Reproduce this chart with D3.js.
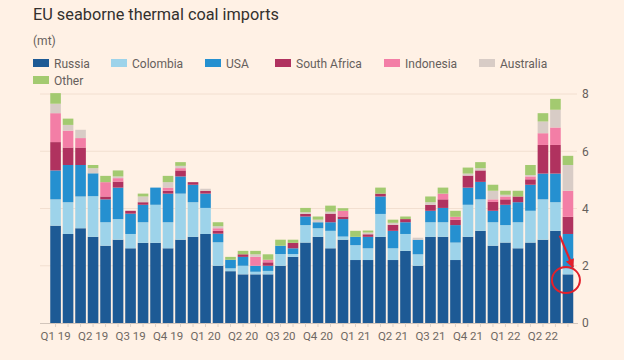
<!DOCTYPE html>
<html><head><meta charset="utf-8">
<script src="https://cdn.jsdelivr.net/npm/d3@7"></script>
<style>
html,body{margin:0;padding:0;background:#fff1e5;}
svg{display:block;font-family:Roboto,"Noto Sans",sans-serif;}
</style></head>
<body><svg id="c" width="624" height="360"></svg>
<script>
const months = d3.range(42).map(i => { const y = 2019 + Math.floor(i/12), m = i % 12 + 1; return y + "-" + String(m).padStart(2,"0"); });
const seriesNames = ["Russia","Colombia","USA","South Africa","Indonesia","Australia","Other"];
const russia = [3.40,3.11,3.31,3.01,2.70,2.91,2.61,2.80,2.80,2.61,2.91,3.01,3.11,2.00,1.81,1.70,1.70,1.70,2.00,2.31,2.81,3.01,2.61,2.91,2.20,2.20,3.01,2.20,2.52,2.00,3.01,3.01,2.20,3.01,3.22,2.70,2.81,2.61,2.81,2.91,3.22,1.70];
const colombia = [0.92,1.11,1.11,1.42,0.82,0.72,0.50,0.72,1.33,0.91,1.61,1.21,0.91,0.82,0.10,0.30,0.09,0.12,0.41,0.10,0.61,0.30,0.61,0.11,0.52,0.41,0.80,0.41,0.59,0.40,0.51,0.51,0.61,1.12,1.10,0.82,0.61,0.91,1.11,1.41,1.00,0.21];
const usa = [1.01,1.30,1.10,0.80,0.80,1.10,0.71,0.61,0.60,1.00,0.60,0.61,0.50,0.30,0.30,0.31,0.21,0.18,0.29,0.20,0.30,0.21,0.30,0.61,0.29,0.40,0.61,0.61,0.41,0.51,0.40,0.50,0.61,0.60,0.61,0.40,0.71,0.70,0.91,0.90,1.00,1.20];
const southAfrica = [0.99,0.61,0.61,0,0.10,0.21,0.10,0.09,0,0.10,0.21,0.09,0.10,0.10,0,0.09,0,0.12,0,0.19,0.09,0,0.30,0.09,0,0.09,0.10,0.21,0.11,0,0.21,0.30,0.19,0.42,0.40,0.31,0.19,0.20,0.19,1.00,1.00,0.60];
const indonesia = [1.01,0.59,0.33,0,0.50,0.12,0,0,0,0.11,0.08,0,0,0.09,0,0,0.31,0.09,0,0,0,0,0,0.20,0,0,0,0,0,0,0,0.20,0.10,0,0,0.09,0.10,0,0.10,0.41,0.61,0.91];
const australia = [0.33,0.20,0.29,0.18,0,0.06,0,0.20,0,0.19,0.08,0,0.07,0.07,0,0,0.09,0,0,0,0.06,0.09,0.07,0,0,0.06,0,0.07,0,0.07,0.09,0,0,0.07,0.08,0.30,0.06,0,0.05,0.41,0.62,0.90];
const other = [0.37,0.22,0,0.11,0.22,0.21,0,0.10,0,0.22,0.13,0,0,0.14,0.10,0.12,0.12,0.19,0.21,0.11,0.15,0.11,0.21,0.09,0.21,0.07,0.21,0.11,0.09,0,0.20,0.21,0.21,0.21,0.21,0.21,0.14,0.20,0.35,0.29,0.38,0.32];
const quarterLabels = ["Q1 19","Q2 19","Q3 19","Q4 19","Q1 20","Q2 20","Q3 20","Q4 20","Q1 21","Q2 21","Q3 21","Q4 21","Q1 22","Q2 22"];
const yTicks = [0,2,4,6,8];
const colors = ["#1d5a95","#9dd3ea","#2590d0","#b0325f","#f37ea6","#d8ccc6","#a3ca70"];

const seriesValues = [russia,colombia,usa,southAfrica,indonesia,australia,other];
const table = months.map((m,i) => { const o = {month:m}; seriesNames.forEach((s,k)=> o[s] = seriesValues[k][i]); return o; });
const stacked = d3.stack().keys(seriesNames)(table);

const svg = d3.select("#c");
const x = d3.scaleBand().domain(months).range([49,574.5]).paddingInner(0.15).paddingOuter(0.1);
const y = d3.scaleLinear().domain([0,8]).range([323,94]);

// title etc
svg.append("text").attr("x",33).attr("y",20).attr("font-size",16.3).attr("fill","#33302e").text("EU seaborne thermal coal imports");
svg.append("text").attr("x",33).attr("y",45).attr("font-size",12).attr("fill","#66605c").text("(mt)");

// legend
const legPos = [[33,63],[111,63],[205,63],[275,63],[384,63],[479,63],[33,80]];
seriesNames.forEach((s,k)=>{
  const g = svg.append("g").attr("transform",`translate(${legPos[k][0]},${legPos[k][1]})`);
  g.append("rect").attr("x",0).attr("y",-4).attr("width",16).attr("height",8).attr("fill",colors[k]);
  g.append("text").attr("x",21).attr("y",4.5).attr("font-size",12).attr("fill","#66605c").text(s);
});

// grid
svg.append("g").selectAll("line").data(yTicks.filter(d=>d>0)).join("line")
  .attr("x1",40).attr("x2",577).attr("y1",d=>y(d)).attr("y2",d=>y(d))
  .attr("stroke","#f2dfd0").attr("stroke-width",1);

// y axis labels
const yAxis = d3.axisRight(y).tickValues(yTicks).tickSize(0).tickPadding(0);
const ya = svg.append("g").attr("transform","translate(582,0)").call(yAxis);
ya.select(".domain").remove();
ya.selectAll("text").attr("font-size",12).attr("fill","#66605c").attr("font-family","Roboto,'Noto Sans',sans-serif");

// bars
svg.append("g").selectAll("g").data(stacked).join("g").attr("fill",(d,k)=>colors[k])
  .selectAll("rect").data(d=>d).join("rect")
  .attr("x",d=>x(d.data.month)).attr("width",x.bandwidth())
  .attr("y",d=>y(d[1])).attr("height",d=>Math.max(0,y(d[0])-y(d[1])));

// x axis
svg.append("line").attr("x1",40).attr("x2",578).attr("y1",y(0)+0.5).attr("y2",y(0)+0.5).attr("stroke","#d2c5bb");
const xAxis = d3.axisBottom(x).tickSize(4).tickFormat((d,i)=> i%3===0 ? quarterLabels[i/3] : "");
const xa = svg.append("g").attr("transform",`translate(0,${y(0)})`).call(xAxis);
xa.select(".domain").remove();
xa.selectAll("line").attr("stroke","#ddd0c6");
xa.selectAll("text").attr("font-size",11.5).attr("fill","#6f6863").attr("dy","0.9em").attr("font-family","Roboto,'Noto Sans',sans-serif");

// annotation
const cx1 = x(months[40]) + x.bandwidth(), cx2 = x(months[41]) + x.bandwidth()/2;
const defs = svg.append("defs");
defs.append("marker").attr("id","ah").attr("viewBox","0 0 10 10").attr("refX",9).attr("refY",5)
  .attr("markerWidth",4).attr("markerHeight",4).attr("orient","auto")
  .append("path").attr("d","M0,0L10,5L0,10z").attr("fill","#e3202b");
svg.append("line").attr("x1",cx1-1).attr("y1",y(3.05)).attr("x2",cx2+5).attr("y2",y(1.95))
  .attr("stroke","#e3202b").attr("stroke-width",2.2).attr("marker-end","url(#ah)");
svg.append("ellipse").attr("cx",cx2-2).attr("cy",y(1.5)).attr("rx",14).attr("ry",13)
  .attr("fill","none").attr("stroke","#e3202b").attr("stroke-width",2);
</script></body></html>
